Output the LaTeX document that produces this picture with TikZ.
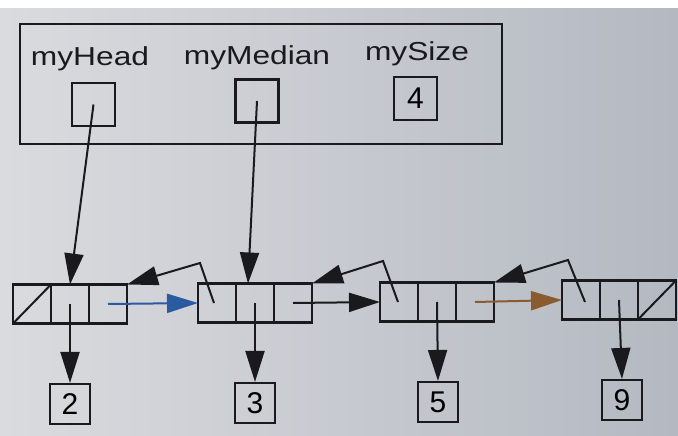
\documentclass[tikz,border=0pt]{standalone}
\usepackage{fontspec}
\setmainfont{Liberation Sans}
\newfontfamily\lblfont[FakeStretch=1.22]{Liberation Sans}
\usetikzlibrary{arrows.meta,calc}

\definecolor{ink}{HTML}{1A1A1E}
\definecolor{paperL}{HTML}{DADBDF}
\definecolor{paperR}{HTML}{B4B9C1}
\definecolor{blueline}{HTML}{2A5AA0}
\definecolor{brownline}{HTML}{8A5A30}

\tikzset{
  cell/.style={draw=ink, line width=2.1pt, minimum width=38pt, minimum height=39pt,
    inner sep=0pt, outer sep=0pt},
  valbox/.style={draw=ink, line width=2.1pt, minimum width=40pt, minimum height=40pt,
    inner sep=0pt, font=\fontsize{30}{30}\selectfont},
  varbox/.style={draw=ink, line width=2.1pt, minimum width=43pt, minimum height=43pt,
    inner sep=0pt, font=\fontsize{30}{30}\selectfont},
  varname/.style={anchor=base, inner sep=0pt, font=\lblfont\fontsize{26}{26}\selectfont, text=ink},
  ptr/.style={draw=ink, line width=2pt, -{Triangle[length=31pt,width=19pt]}},
  frame/.style={draw=ink, line width=2.2pt}
}

\begin{document}
\begin{tikzpicture}[x=1pt,y=-1pt]
  % paper background
  \shade[left color=paperL, right color=paperR] (0,0) rectangle (678,436);
  \fill[white] (0,0) rectangle (678,8);
  \useasboundingbox (0,0) rectangle (678,436);

  % the list object with its three fields
  \node[frame, minimum width=482pt, minimum height=120pt, inner sep=0pt] (obj) at (261,84) {};
  \node[varname] (lhead) at (90,66) {myHead};
  \node[varname] (lmed) at (257,65) {myMedian};
  \node[varname] (lsize) at (417,61) {mySize};
  \node[varbox] (hbox) at (93.5,104.5) {};
  \node[varbox] (mbox) at (257,101) {};
  \node[varbox] (sbox) at (415.5,98.5) {4};

  % doubly linked nodes: prev | value | next
  \node[cell] (n1a) at (32,304) {};
  \node[cell] (n1b) at (70,304) {};
  \node[cell] (n1c) at (108,304) {};
  \node[cell] (n2a) at (217,303) {};
  \node[cell] (n2b) at (255,303) {};
  \node[cell] (n2c) at (293,303) {};
  \node[cell] (n3a) at (399,302) {};
  \node[cell] (n3b) at (437,302) {};
  \node[cell] (n3c) at (475,302) {};
  \node[cell] (n4a) at (581,300) {};
  \node[cell] (n4b) at (619,300) {};
  \node[cell] (n4c) at (657,300) {};

  % null links
  \draw[ink, line width=2pt] (n1a.south west) -- (n1a.north east);
  \draw[ink, line width=2pt] (n4c.south west) -- (n4c.north east);

  % stored values
  \node[valbox] (v2) at (70,404) {2};
  \node[valbox] (v3) at (255,403) {3};
  \node[valbox] (v5) at (438,402) {5};
  \node[valbox] (v9) at (622,400) {9};

  % head and median references
  \draw[ptr] (hbox.center) -- (n1b.north);
  \draw[ptr] (mbox.center) -- ($(n2b.north)+(-7,0)$);

  % value references
  \draw[ptr] (n1b.center) -- (v2.north);
  \draw[ptr] (n2b.center) -- (v3.north);
  \draw[ptr] (n3b.center) -- (v5.north);
  \draw[ptr] (n4b.center) -- (v9.north);

  % next links
  \draw[ptr, draw=blueline] (n1c.center) -- (n2a.west);
  \draw[ptr] (n2c.center) -- (n3a.west);
  \draw[ptr, draw=brownline] (n3c.center) -- (n4a.west);

  % prev links, bent over the top
  \coordinate (b2) at ($(n2a.center)+(-17,-40)$);
  \coordinate (b3) at ($(n3a.center)+(-16,-41)$);
  \coordinate (b4) at ($(n4a.center)+(-13,-40)$);
  \draw[ptr] ($(n2a.center)+(-3,0)$) -- (b2) -- (n1c.north east);
  \draw[ptr] ($(n3a.center)+(-1,0)$) -- (b3) -- (n2c.north east);
  \draw[ptr] ($(n4a.center)+(4,2)$) -- (b4) -- (n3c.north east);
\end{tikzpicture}
\end{document}
